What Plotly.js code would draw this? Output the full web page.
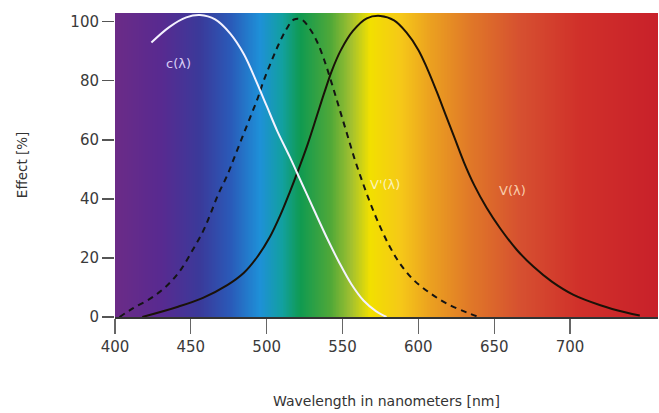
<!DOCTYPE html>
<html>
<head>
<meta charset="utf-8">
<script src="https://cdn.plot.ly/plotly-3.0.1.min.js"></script>
<style>html,body{margin:0;padding:0;background:#fff;}#chart{width:659px;height:413px;}</style>
</head>
<body>
<div id="chart"></div>
<script>
// Circadian curve c(λ) (white)
var cNm  = [424, 436, 447, 456, 466, 476, 485, 493, 500, 507, 515, 523, 531, 540, 548, 556, 564, 572, 579];
var cVal = [93, 98.3, 101.5, 102.3, 100.8, 96, 89, 80, 71.5, 63, 54.5, 45.5, 36.5, 26.5, 18.3, 11, 5.5, 2, 0];

// Scotopic V'(λ) (dashed)
var vsNm  = [403, 412, 425, 436, 444, 451, 458, 463, 468, 474, 479, 484, 489, 494, 498, 503, 508, 513, 518, 523, 528, 533, 538, 543, 548, 553, 558, 563, 568, 574, 581, 588, 597, 608, 619, 632, 640];
var vsVal = [0, 3, 6.8, 11.5, 16.5, 22.5, 29, 35, 41.5, 48, 54.5, 61, 67.5, 74, 80, 86.5, 92.5, 97.5, 100.8, 100.8, 98, 93.5, 87, 79, 70.5, 62, 53.5, 46, 39, 31.5, 24, 18, 12.5, 8, 4.5, 1.5, 0];

// Photopic V(λ) (solid)
var vpNm  = [418, 441, 458, 474, 485, 494, 502, 509, 515, 521, 527, 533, 538, 543, 549, 557, 566, 575, 584, 592, 600, 606, 612, 618, 624, 630, 637, 645, 654, 665, 676, 688, 702, 720, 737, 746];
var vpVal = [0, 3.4, 6.5, 10.8, 15, 20.5, 27, 34.5, 42, 50, 58.5, 68, 76, 83.5, 90.5, 97, 101.2, 102, 100.5, 96.5, 90.5, 84, 76.5, 68.5, 60.5, 52.5, 44.5, 37, 30, 22.7, 17, 12, 7.6, 4, 1.5, 0.5];

// Spectrum background colour stops
var specNm  = [400, 430, 456, 476, 495, 510, 522, 542, 555, 568, 588, 608, 634, 667, 706, 760];
var specCol = ['#6b2b87', '#582a90', '#3a3a9a', '#2a5ab8', '#1e90d8', '#12a0a0', '#109a50', '#50a838', '#a0c030', '#f2e000', '#f5c818', '#eba020', '#e07828', '#d65030', '#d0302a', '#c8202a'];

var xTicks = [400, 450, 500, 550, 600, 650, 700];
var yTicks = [0, 20, 40, 60, 80, 100];

var lamMin = 400, lamMax = 760;
var colorscale = specNm.map(function (n, i) { return [(n - lamMin) / (lamMax - lamMin), specCol[i]]; });
var bgX = [];
for (var l = lamMin; l <= lamMax; l += 1) bgX.push(l);
var bgZ = [bgX, bgX];

var traces = [
  {type: 'heatmap', x: bgX, y: [0, 104], z: bgZ, colorscale: colorscale, zmin: lamMin, zmax: lamMax,
   zsmooth: 'best', showscale: false, hoverinfo: 'skip'},
  {type: 'scatter', mode: 'lines', x: vpNm, y: vpVal, line: {color: '#1a1208', width: 2, shape: 'spline', smoothing: 1}, hoverinfo: 'skip'},
  {type: 'scatter', mode: 'lines', x: vsNm, y: vsVal, line: {color: '#141414', width: 2, dash: '6px,5px', shape: 'spline', smoothing: 1}, hoverinfo: 'skip'},
  {type: 'scatter', mode: 'lines', x: cNm, y: cVal, line: {color: '#f4f2ff', width: 2, shape: 'spline', smoothing: 1}, hoverinfo: 'skip'}
];

var fontFam = '"DejaVu Sans", "Noto Sans", sans-serif';
var layout = {
  width: 659, height: 413,
  margin: {l: 115, r: 1, t: 13, b: 96},
  paper_bgcolor: '#ffffff', plot_bgcolor: '#ffffff',
  showlegend: false,
  font: {family: fontFam, size: 14, color: '#333'},
  xaxis: {range: [400, 758], tickvals: xTicks, ticktext: xTicks.map(String), ticks: 'outside', ticklen: 15,
          tickcolor: '#666', tickwidth: 1.2, showgrid: false, zeroline: false, showline: true, linecolor: '#333', linewidth: 1.5,
          tickfont: {size: 15, color: '#3a3a3a', family: fontFam}, fixedrange: true},
  yaxis: {range: [0, 103], tickvals: yTicks, ticktext: yTicks.map(String), ticks: 'outside', ticklen: 12,
          tickcolor: '#555', tickwidth: 1.2, showgrid: false, zeroline: false, showline: false,
          tickfont: {size: 15, color: '#3a3a3a', family: fontFam}, fixedrange: true},
  annotations: [
    {text: 'Wavelength in nanometers [nm]', xref: 'paper', yref: 'paper', x: 0.5, y: -0.277, yanchor: 'middle',
     showarrow: false, font: {size: 14, color: '#333', family: fontFam}},
    {text: 'Effect [%]', xref: 'paper', yref: 'paper', x: -0.171, xanchor: 'center', y: 0.5, yanchor: 'middle',
     textangle: -90, showarrow: false, font: {size: 13.5, color: '#333', family: fontFam}},
    {text: 'c(λ)', x: 442, y: 86, xref: 'x', yref: 'y', showarrow: false, font: {size: 13, color: '#d8ccf4', family: fontFam}},
    {text: "V'(λ)", x: 578, y: 45, xref: 'x', yref: 'y', showarrow: false, font: {size: 13, color: '#fbf2b8', family: fontFam}},
    {text: 'V(λ)', x: 662, y: 43, xref: 'x', yref: 'y', showarrow: false, font: {size: 13, color: '#f8ccaa', family: fontFam}}
  ]
};

Plotly.newPlot('chart', traces, layout, {displayModeBar: false, staticPlot: true});
</script>
</body>
</html>
